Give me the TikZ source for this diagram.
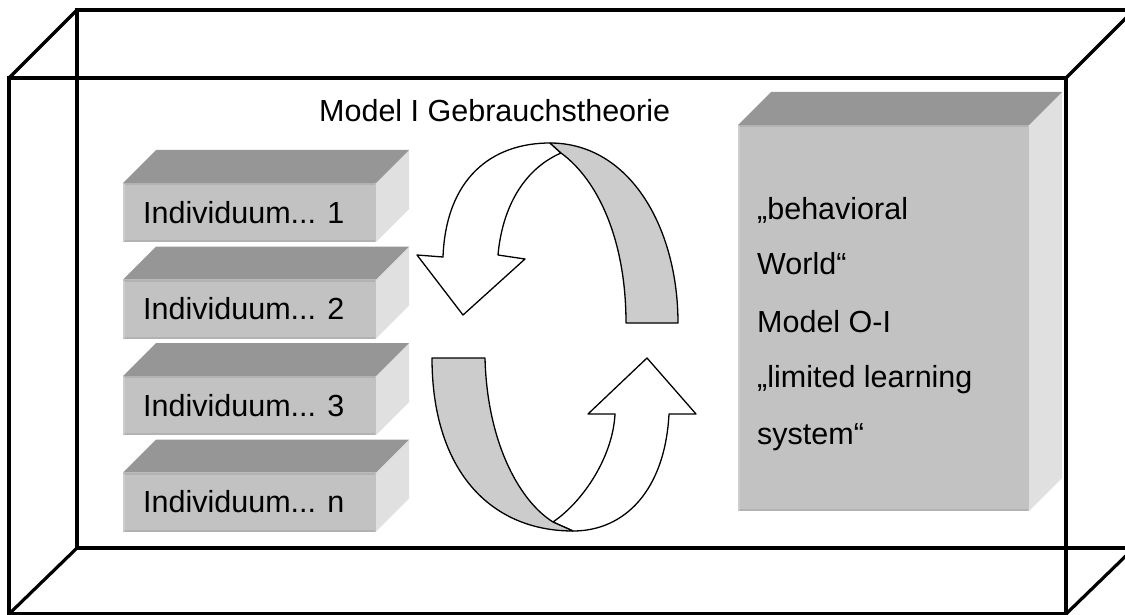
\documentclass[tikz,border=0pt]{standalone}
\usepackage{fontspec}
\setmainfont{Liberation Sans}
\definecolor{topgrey}{HTML}{969696}
\definecolor{frontgrey}{HTML}{C2C2C2}
\definecolor{sidegrey}{HTML}{E0E0E0}
\definecolor{rimlight}{HTML}{CDCDCD}
\definecolor{rimdark}{HTML}{B2B2B2}
\definecolor{bandgrey}{HTML}{CCCCCC}

% Solid block: front face (#1,#2)-(#3,#4), depth 33 towards the upper right
\newcommand\solidblock[4]{%
  \fill[sidegrey] (#3,#2) -- ({#3+33},{#2-33}) -- ({#3+33},{#4-33}) -- (#3,#4) -- cycle;
  \fill[topgrey] (#1,#2) -- ({#1+33},{#2-33}) -- ({#3+33},{#2-33}) -- (#3,#2) -- cycle;
  \fill[frontgrey] (#1,#2) rectangle (#3,#4);
  \draw[rimdark, line width=2pt] ({#1+1},{#2+1}) -- ({#3-1},{#2+1});
  \draw[rimdark, line width=2pt] ({#1+1},{#4-1}) -- ({#3-1},{#4-1});
  \draw[rimlight, line width=2pt] ({#1+1},{#2+1}) -- ({#1+1},{#4-1});
}

\begin{document}
\begin{tikzpicture}[x=1pt, y=-1pt,
  frameline/.style={line width=3.2pt, line join=miter},
  ribbon/.style={draw=black, line width=1.3pt, line join=round},
  label/.style={inner sep=0pt, anchor=base west, font=\fontsize{30.5}{36}\selectfont}]
\useasboundingbox (0,0) rectangle (1125,615);
\begin{scope}
\clip (0,0) rectangle (1125,615);
% wire-frame room
\draw[frameline] (77,10) rectangle (1134,548);
\draw[frameline] (9,78) rectangle (1066,614);
\draw[frameline] (9,78) -- (77,10);
\draw[frameline] (1066,78) -- (1134,10);
\draw[frameline] (9,614) -- (77,548);
\draw[frameline] (1066,614) -- (1134,548);
\end{scope}

% stack of individuals
\solidblock{123}{183}{376}{242}
\solidblock{123}{279.5}{376}{338.5}
\solidblock{123}{376}{376}{435}
\solidblock{123}{472.5}{376}{531.5}
\node[label] (ind1) at (143,223) {Individuum... 1};
\node[label] (ind2) at (143,319.5) {Individuum... 2};
\node[label] (ind3) at (143,416) {Individuum... 3};
\node[label] (indn) at (143,512.5) {Individuum... n};

% behavioral world block
\solidblock{738}{125}{1029}{511}
\node[label] (bw1) at (757,219) {„behavioral};
\node[label] (bw2) at (757,274) {World“};
\node[label] (bw3) at (757,332) {Model O-I};
\node[label] (bw4) at (757,387) {„limited learning};
\node[label] (bw5) at (757,444) {system“};

% title
\node[label] (title) at (319,122) {Model I Gebrauchstheorie};

% upper ribbon arrow, pointing down-left
\coordinate (ptop) at (550,143);
\coordinate (qtop) at (561,153);
\filldraw[ribbon, fill=white] (417,255) -- (443,257)
  .. controls (446,178) and (492,143) .. (ptop) -- (qtop)
  .. controls (522,170) and (502,210) .. (498,255)
  -- (525,259) -- (463,315) -- cycle;
\filldraw[ribbon, fill=bandgrey] (ptop)
  .. controls (630,143) and (678,228) .. (678,323)
  -- (626,323)
  .. controls (626,240) and (598,180) .. (qtop) -- cycle;

% lower ribbon arrow, pointing up-right
\coordinate (pbot) at (573,531);
\coordinate (qbot) at (553,522);
\filldraw[ribbon, fill=white] (qbot)
  .. controls (585,500) and (613,455) .. (615,414)
  -- (588,414) -- (647,358) -- (696,414) -- (669,414)
  .. controls (665,490) and (625,531) .. (pbot) -- cycle;
\filldraw[ribbon, fill=bandgrey] (432,358) -- (485,358)
  .. controls (487,440) and (518,500) .. (qbot) -- (pbot)
  .. controls (490,531) and (432,470) .. (432,358) -- cycle;
\end{tikzpicture}
\end{document}
